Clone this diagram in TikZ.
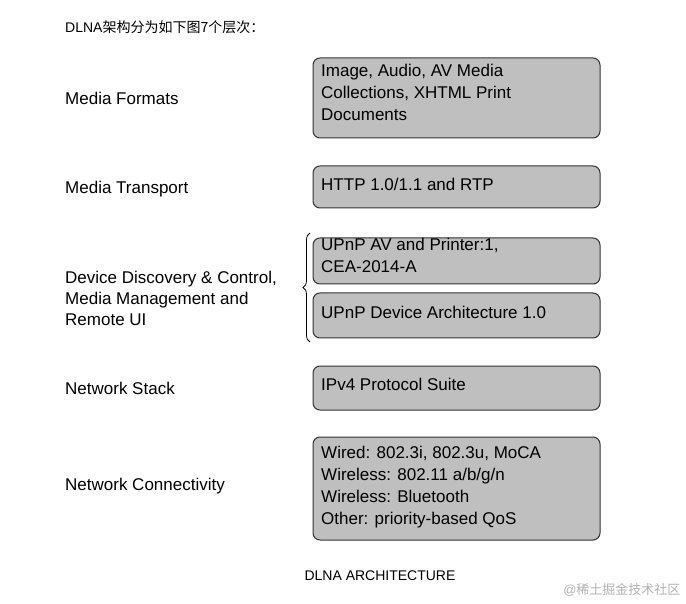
\documentclass[tikz,border=0pt]{standalone}
\usepackage{fontspec}
\setmainfont{Liberation Sans}
\newfontfamily\cjk{Noto Sans CJK SC}
\usetikzlibrary{decorations.pathreplacing}
\begin{document}
\begin{tikzpicture}[x=1pt,y=-1pt,
  lay/.style={draw=black!80,line width=1pt,fill=black!25,rounded corners=7pt},
  lbl/.style={anchor=west,font=\fontsize{17}{21}\selectfont,align=left,inner sep=0},
  btxt/.style={anchor=north west,font=\fontsize{17}{22}\selectfont,align=left,inner sep=0}]
\useasboundingbox[fill=white] (0,0) rectangle (686,604);
\node[anchor=west,inner sep=0,font=\fontsize{14}{16}\selectfont] (title) at (65,27) {DLNA{\cjk 架构分为如下图7个层次：}};
% boxes
\draw[lay] (313,58) rectangle (600,138);
\draw[lay] (313,166) rectangle (600,208);
\draw[lay] (313,238) rectangle (600,284);
\draw[lay] (313,293) rectangle (600,338);
\draw[lay] (313,366) rectangle (600,410);
\draw[lay] (313,437) rectangle (600,540);
\node[btxt] (b1) at (321,64) {Image, Audio, AV Media\\Collections, XHTML Print\\Documents};
\node[btxt] (b2) at (321,178) {HTTP 1.0/1.1 and RTP};
\node[btxt] (b3) at (321,238) {UPnP AV and Printer:1,\\CEA-2014-A};
\node[btxt] (b4) at (321,306) {UPnP Device Architecture 1.0};
\node[btxt] (b5) at (321,378) {IPv4 Protocol Suite};
\node[btxt] (b6) at (321,446) {Wired: 802.3i, 802.3u, MoCA\\Wireless: 802.11 a/b/g/n\\Wireless: Bluetooth\\Other: priority-based QoS};
% labels
\node[lbl] (l1) at (65,98) {Media Formats};
\node[lbl] (l2) at (65,189) {Media Transport};
\node[lbl] (l3) at (65,298) {Device Discovery \& Control,\\Media Management and\\Remote UI};
\node[lbl] (l4) at (65,388) {Network Stack};
\node[lbl] (l5) at (65,486) {Network Connectivity};
\draw[decorate,decoration={brace,amplitude=7pt},line width=0.8pt] (310,342) -- (310,233);
\node[font=\fontsize{14}{16}\selectfont] (cap) at (380,576) {DLNA ARCHITECTURE};
\node[anchor=east,text=black!30,font=\fontsize{13}{15}\selectfont] (wm) at (684,590) {@{\cjk 稀土掘金技术社区}};
\end{tikzpicture}
\end{document}
